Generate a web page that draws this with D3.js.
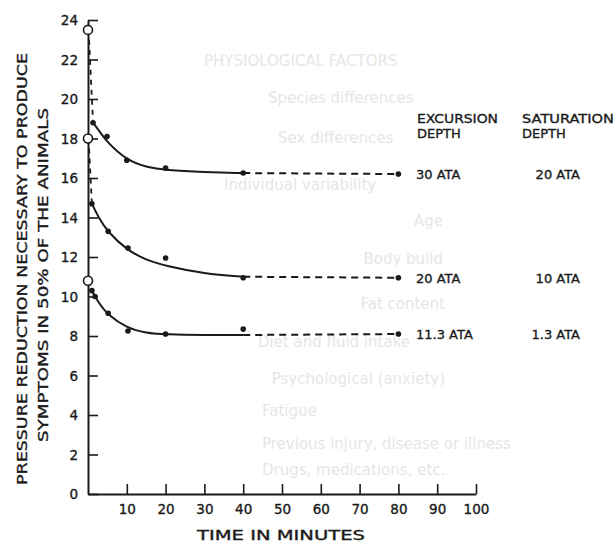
<!DOCTYPE html>
<html><head><meta charset="utf-8">
<script src="https://cdn.jsdelivr.net/npm/d3@7"></script>
<style>
body{margin:0;background:#fff;}
text{font-family:"DejaVu Sans",sans-serif;fill:#1a1a1a;}
.ink{stroke:#1a1a1a;stroke-width:0.35px;}
</style></head>
<body><svg id="c" width="616" height="546"></svg>
<script>
// ---- data ----
const xTicks = [10,20,30,40,50,60,70,80,90,100];
const yTicks = [0,2,4,6,8,10,12,14,16,18,20,22,24];
const seriesNames = ["30 ATA / 20 ATA","20 ATA / 10 ATA","11.3 ATA / 1.3 ATA"];
const excursionLabels = ["30 ATA","20 ATA","11.3 ATA"];
const saturationLabels = ["20 ATA","10 ATA","1.3 ATA"];
// open circles at time 0
const startValues = [23.5, 18.0, 10.8];
// measured points (time, pressure reduction)
const pointsTop = [[1.3,18.8],[4.9,18.1],[10,16.9],[20,16.5],[40,16.25]];
const pointsMid = [[1,14.7],[5.2,13.3],[10.3,12.45],[20,11.95],[40,10.95]];
const pointsBot = [[1,10.3],[1.8,10.0],[5.2,9.15],[10.3,8.25],[20,8.1],[40,8.35]];
// fitted curves (solid)
const curveTop = [[1.3,18.8],[3,18.35],[5,17.8],[10,16.9],[15,16.55],[20,16.4],[30,16.3],[40,16.25]];
const curveMid = [[1,14.7],[3,13.9],[5,13.3],[10,12.35],[15,11.85],[20,11.55],[30,11.15],[40,11.0]];
const curveBot = [[1,10.3],[3,9.6],[5,9.1],[10,8.4],[15,8.15],[20,8.08],[30,8.05],[40,8.05]];
// extrapolated (dashed) ends at 80 min
const endValues = [16.2, 10.95, 8.1];
// faint show-through text from the reverse page
const ghostText = ["PHYSIOLOGICAL FACTORS","Species differences","Sex differences","Individual variability","Age","Body build","Fat content","Diet and fluid intake","Psychological (anxiety)","Fatigue","Previous injury, disease or illness","Drugs, medications, etc."];

const svg = d3.select("#c");
const x = d3.scaleLinear().domain([0,100]).range([88,476]);
const y = d3.scaleLinear().domain([0,24]).range([494,20]);

// ghost text (very faint)
const ghostPos = [[204,66,"start"],[268,103,"start"],[278,143,"start"],[224,190,"start"],[443,226,"end"],[443,264,"end"],[445,309,"end"],[410,347,"end"],[445,384,"end"],[262,416,"start"],[262,449,"start"],[262,475,"start"]];
svg.append("g").selectAll("text").data(ghostText).join("text")
  .attr("x",(d,i)=>ghostPos[i][0]).attr("y",(d,i)=>ghostPos[i][1])
  .attr("text-anchor",(d,i)=>ghostPos[i][2])
  .style("font-size","15px").style("fill","#e6e6e6").text(d=>d);

// axes
const yAxis = d3.axisLeft(y).tickValues(yTicks).tickSizeInner(-10).tickSizeOuter(0).tickPadding(10);
const gy = svg.append("g").attr("transform",`translate(${x(0)},0)`).call(yAxis);
const xAxis = d3.axisBottom(x).tickValues(xTicks).tickSizeInner(-10).tickSizeOuter(0).tickPadding(10);
const gx = svg.append("g").attr("transform",`translate(0,${y(0)})`).call(xAxis);
[gx,gy].forEach(g=>{
  g.select(".domain").attr("stroke","#1a1a1a").attr("stroke-width",2);
  g.selectAll(".tick line").attr("stroke","#1a1a1a").attr("stroke-width",1.6);
  g.selectAll(".tick text").attr("class","ink").style("font-size","13.5px").style("font-family","'DejaVu Sans',sans-serif").attr("fill","#1a1a1a");
});
gy.selectAll(".tick text").attr("dy","0.36em");

// axis titles
svg.append("text").attr("class","ink").attr("transform","translate(22,269) rotate(-90)")
  .attr("text-anchor","middle").attr("dominant-baseline","central")
  .attr("textLength",432).attr("lengthAdjust","spacingAndGlyphs")
  .style("font-size","13.5px").text("PRESSURE REDUCTION NECESSARY TO PRODUCE");
svg.append("text").attr("class","ink").attr("transform","translate(43,275) rotate(-90)")
  .attr("text-anchor","middle").attr("dominant-baseline","central")
  .attr("textLength",334).attr("lengthAdjust","spacingAndGlyphs")
  .style("font-size","13.5px").text("SYMPTOMS IN 50% OF THE ANIMALS");
svg.append("text").attr("class","ink").attr("x",197).attr("y",540)
  .attr("textLength",168).attr("lengthAdjust","spacingAndGlyphs")
  .style("font-size","13.5px").text("TIME IN MINUTES");

const line = d3.line().x(d=>x(d[0])).y(d=>y(d[1]));
const curves = [curveTop,curveMid,curveBot];
const points = [pointsTop,pointsMid,pointsBot];

curves.forEach((c,i)=>{
  svg.append("path").attr("d",line([[0.15,startValues[i]],c[0]]))
    .attr("fill","none").attr("stroke","#1a1a1a").attr("stroke-width",1.8).attr("stroke-dasharray","5,5");
  svg.append("path").attr("d",line.curve(d3.curveBasis)(c))
    .attr("fill","none").attr("stroke","#1a1a1a").attr("stroke-width",2);
  line.curve(d3.curveLinear);
  const last = c[c.length-1];
  svg.append("path").attr("d",line([last,[80,endValues[i]]]))
    .attr("fill","none").attr("stroke","#1a1a1a").attr("stroke-width",2).attr("stroke-dasharray","7,5");
  svg.append("circle").attr("cx",x(80)).attr("cy",y(endValues[i])).attr("r",2.8).attr("fill","#1a1a1a");
  svg.append("g").selectAll("circle").data(points[i]).join("circle")
    .attr("cx",d=>x(d[0])).attr("cy",d=>y(d[1])).attr("r",2.8).attr("fill","#1a1a1a");
  svg.append("circle").attr("cx",x(0)).attr("cy",y(startValues[i])).attr("r",4.5)
    .attr("fill","#fff").attr("stroke","#1a1a1a").attr("stroke-width",1.6);
});

// key
const fs = "13px";
svg.append("text").attr("class","ink").attr("x",417).attr("y",123).attr("textLength",81).attr("lengthAdjust","spacingAndGlyphs").style("font-size",fs).text("EXCURSION");
svg.append("text").attr("class","ink").attr("x",417).attr("y",138).style("font-size",fs).text("DEPTH");
svg.append("text").attr("class","ink").attr("x",522).attr("y",123).attr("textLength",92).attr("lengthAdjust","spacingAndGlyphs").style("font-size",fs).text("SATURATION");
svg.append("text").attr("class","ink").attr("x",522).attr("y",138).style("font-size",fs).text("DEPTH");
svg.append("g").selectAll("text").data(excursionLabels).join("text").attr("class","ink")
  .attr("x",416).attr("y",(d,i)=>y(endValues[i])+5).style("font-size",fs).text(d=>d);
svg.append("g").selectAll("text").data(saturationLabels).join("text").attr("class","ink")
  .attr("x",580).attr("text-anchor","end").attr("y",(d,i)=>y(endValues[i])+5).style("font-size",fs).text(d=>d);
</script></body></html>
